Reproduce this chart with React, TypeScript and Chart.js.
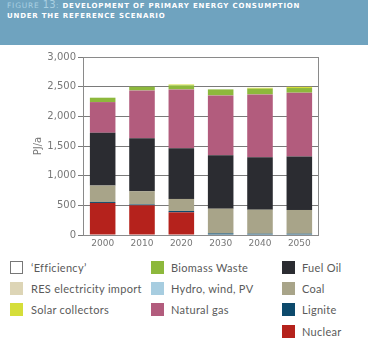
import React, { useEffect, useRef } from "react";
import { Chart, registerables } from "chart.js";

Chart.register(...registerables);

// Primary energy consumption, reference scenario (PJ/a)
const years = ["2000", "2010", "2020", "2030", "2040", "2050"];
const nuclear = [540, 500, 382, 0, 0, 0];
const lignite = [17, 15, 23, 27, 22, 22];
const coal = [276, 223, 203, 417, 405, 400];
const fuelOil = [890, 894, 855, 901, 884, 901];
const naturalGas = [517, 805, 991, 1008, 1059, 1076];
const hydroWindPv = [0, 0, 0, 0, 0, 0];
const biomassWaste = [74, 63, 68, 101, 96, 78];
const solarCollectors = [0, 0, 15, 0, 15, 20];
const resImport = [0, 0, 0, 0, 0, 0];
const efficiency = [0, 0, 0, 0, 0, 0];
const yTicks = [0, 500, 1000, 1500, 2000, 2500, 3000];

const C = {
  nuclear: "#b5221c",
  lignite: "#0d4a6c",
  coal: "#a8a489",
  fuelOil: "#2b2c31",
  gas: "#b25c7d",
  hydro: "#a7cde0",
  biomass: "#8db83c",
  solar: "#d5de3a",
  res: "#ddd5b6",
  eff: "#ffffff",
};

type LegendItem = { label: string; color: string; outline?: boolean };
const legendCols: LegendItem[][] = [
  [
    { label: "\u2018Efficiency\u2019", color: C.eff, outline: true },
    { label: "RES electricity import", color: C.res },
    { label: "Solar collectors", color: C.solar },
  ],
  [
    { label: "Biomass Waste", color: C.biomass },
    { label: "Hydro, wind, PV", color: C.hydro },
    { label: "Natural gas", color: C.gas },
  ],
  [
    { label: "Fuel Oil", color: C.fuelOil },
    { label: "Coal", color: C.coal },
    { label: "Lignite", color: C.lignite },
    { label: "Nuclear", color: C.nuclear },
  ],
];
const colX = [10, 151, 282];

const frame = {
  id: "frame",
  beforeDatasetsDraw(chart: any) {
    const { ctx, chartArea: a } = chart;
    ctx.save();
    ctx.strokeStyle = "#8a8a8a";
    ctx.lineWidth = 1;
    ctx.strokeRect(a.left + 0.5, a.top + 0.5, a.right - a.left - 1, a.bottom - a.top);
    ctx.restore();
  },
};

export default function App() {
  const ref = useRef<HTMLCanvasElement>(null);

  useEffect(() => {
    const ds = (label: string, data: number[], color: string) => ({
      label,
      data,
      backgroundColor: color,
      borderWidth: 0,
      stack: "s",
    });
    const chart = new Chart(ref.current!, {
      type: "bar",
      data: {
        labels: years,
        datasets: [
          ds("Nuclear", nuclear, C.nuclear),
          ds("Lignite", lignite, C.lignite),
          ds("Coal", coal, C.coal),
          ds("Fuel Oil", fuelOil, C.fuelOil),
          ds("Natural gas", naturalGas, C.gas),
          ds("Hydro, wind, PV", hydroWindPv, C.hydro),
          ds("Biomass Waste", biomassWaste, C.biomass),
          ds("Solar collectors", solarCollectors, C.solar),
          ds("RES electricity import", resImport, C.res),
          ds("Efficiency", efficiency, C.eff),
        ],
      },
      options: {
        animation: false,
        responsive: false,
        devicePixelRatio: 1,
        layout: { padding: { top: 9, right: 49, left: 0, bottom: 0 } },
        datasets: { bar: { categoryPercentage: 1, barPercentage: 0.65 } },
        plugins: { legend: { display: false }, tooltip: { enabled: false } },
        scales: {
          x: {
            stacked: true,
            grid: { display: false, drawTicks: false },
            border: { display: false },
            ticks: {
              color: "#777",
              font: { family: "DejaVu Sans", size: 9 },
              padding: 3,
            },
            afterFit(s: any) {
              s.height = 18;
            },
          },
          y: {
            stacked: true,
            min: 0,
            max: 3000,
            afterBuildTicks(s: any) {
              s.ticks = yTicks.map((v) => ({ value: v }));
            },
            grid: {
              color: "#7a7a7a",
              lineWidth: 1,
              tickLength: 5,
              drawTicks: true,
            },
            border: { display: true, color: "#8a8a8a" },
            ticks: {
              color: "#777",
              font: { family: "DejaVu Sans", size: 10 },
              padding: 2,
              callback: (v: any) => Number(v).toLocaleString("en-US"),
            },
            title: {
              display: true,
              text: "PJ/a",
              color: "#777",
              font: { family: "DejaVu Sans", size: 10 },
              padding: { top: 32, bottom: 0 },
            },
            afterFit(s: any) {
              s.width = 83;
            },
          },
        },
      },
      plugins: [frame],
    });
    return () => chart.destroy();
  }, []);

  return (
    <div
      style={{
        position: "absolute",
        left: 0,
        top: 0,
        width: 368,
        height: 346,
        background: "#fff",
        overflow: "hidden",
      }}
    >
      <div
        style={{
          position: "absolute",
          left: 0,
          top: 0,
          width: 368,
          height: 45,
          background: "#6fa3bf",
          fontFamily: "DejaVu Sans",
          fontWeight: "bold",
          fontSize: 7,
          letterSpacing: 0.8,
          color: "#fff",
          lineHeight: "10px",
        }}
      >
        <div style={{ position: "absolute", left: 7, top: 0, whiteSpace: "nowrap" }}>
          <span style={{ color: "#a9d0e2", fontWeight: "normal", fontSize: 7.5 }}>
            FIGURE <span style={{ fontSize: 10, letterSpacing: 0.2 }}>13</span>:
          </span>{" "}
          DEVELOPMENT OF PRIMARY ENERGY CONSUMPTION
        </div>
        <div style={{ position: "absolute", left: 7, top: 10.7, whiteSpace: "nowrap" }}>
          UNDER THE REFERENCE SCENARIO
        </div>
      </div>
      <canvas
        ref={ref}
        width={368}
        height={205}
        style={{ position: "absolute", left: 0, top: 48, width: 368, height: 205 }}
      />
      {legendCols.map((col, ci) =>
        col.map((it, ri) => (
          <div
            key={ci + "-" + ri}
            style={{
              position: "absolute",
              left: colX[ci],
              top: 260 + ri * 21.4,
              height: 14,
              display: "flex",
              alignItems: "center",
              whiteSpace: "nowrap",
              fontFamily: "Lato",
              fontSize: 11,
              letterSpacing: 0.3,
              color: "#5a5a5a",
            }}
          >
            <span
              style={{
                display: "inline-block",
                width: it.outline ? 11 : 13,
                height: it.outline ? 11 : 13,
                background: it.color,
                border: it.outline ? "1px solid #777" : "none",
                marginRight: ci === 0 ? 8 : 7,
              }}
            />
            <span>{it.label}</span>
          </div>
        ))
      )}
    </div>
  );
}
